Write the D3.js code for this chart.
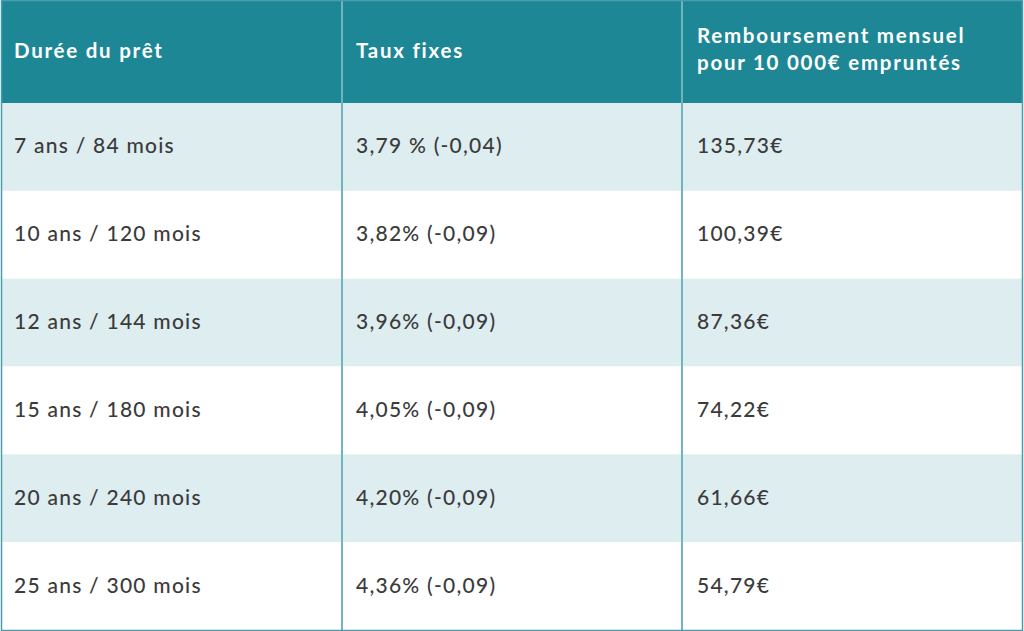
<!DOCTYPE html>
<html><head><meta charset="utf-8">
<script src="https://cdn.jsdelivr.net/npm/d3@7"></script>
<style>html,body{margin:0;padding:0;background:#fff;}</style>
</head><body>
<svg id="chart" width="1024" height="631"></svg>
<script>
const headers = [["Durée du prêt"], ["Taux fixes"], ["Remboursement mensuel", "pour 10 000€ empruntés"]];
const durations = ["7 ans / 84 mois", "10 ans / 120 mois", "12 ans / 144 mois", "15 ans / 180 mois", "20 ans / 240 mois", "25 ans / 300 mois"];
const rates = ["3,79 % (-0,04)", "3,82% (-0,09)", "3,96% (-0,09)", "4,05% (-0,09)", "4,20% (-0,09)", "4,36% (-0,09)"];
const payments = ["135,73€", "100,39€", "87,36€", "74,22€", "61,66€", "54,79€"];

const svg = d3.select("#chart");
const tblLeft = 2, tblRight = 1022, tblTop = 1, headerBottom = 103, tblBottom = 630;
const cols = [0, 1, 2];
const pad = [12, 14, 15];
const x = d3.scaleBand().domain(cols).range([tblLeft, tblRight]);
const y = d3.scaleBand().domain(d3.range(durations.length)).range([headerBottom, tblBottom]);

const headColor = "#1e8796", stripe = "#ddedf0", textColor = "#3b3b3b", lineColor = "#6fb4be";
const font = "Lato, 'Open Sans', sans-serif";

svg.append("rect").attr("x", tblLeft).attr("y", tblTop).attr("width", tblRight - tblLeft).attr("height", headerBottom - tblTop).attr("fill", headColor);

const rows = durations.map((d, i) => [d, rates[i], payments[i]]);
svg.selectAll("rect.row").data(rows).join("rect").attr("class", "row")
  .attr("x", tblLeft).attr("y", (d, i) => y(i)).attr("width", tblRight - tblLeft).attr("height", y.bandwidth())
  .attr("fill", (d, i) => i % 2 === 0 ? stripe : "#ffffff");

headers.forEach((lines, c) => {
  const t = svg.append("text").attr("fill", "#ffffff")
    .attr("font-family", font).attr("font-weight", 700).attr("font-size", 20.5)
    .attr("letter-spacing", 1.75);
  const base = lines.length === 1 ? 58 : 43;
  lines.forEach((l, k) => t.append("tspan").attr("x", x(c) + pad[c]).attr("y", base + k * 27).text(l));
});

rows.forEach((r, i) => {
  svg.append("g").selectAll("text").data(r).join("text")
    .attr("x", (d, c) => x(c) + pad[c])
    .attr("y", y(i) + y.bandwidth() / 2 + 6.5)
    .attr("fill", textColor).attr("font-family", font).attr("font-size", 21)
    .attr("font-weight", 500).attr("letter-spacing", 1.25)
    .text(d => d);
});

svg.selectAll("line.div").data([1, 2]).join("line").attr("class", "div")
  .attr("x1", c => x(c)).attr("x2", c => x(c)).attr("y1", tblTop).attr("y2", tblBottom)
  .attr("stroke", lineColor).attr("stroke-width", 2);

svg.append("rect").attr("x", tblLeft - 0.5).attr("y", tblTop - 0.5).attr("width", tblRight - tblLeft + 1).attr("height", tblBottom - tblTop + 1)
  .attr("fill", "none").attr("stroke", "#4a9ea9").attr("stroke-width", 1.5);
</script>
</body></html>
